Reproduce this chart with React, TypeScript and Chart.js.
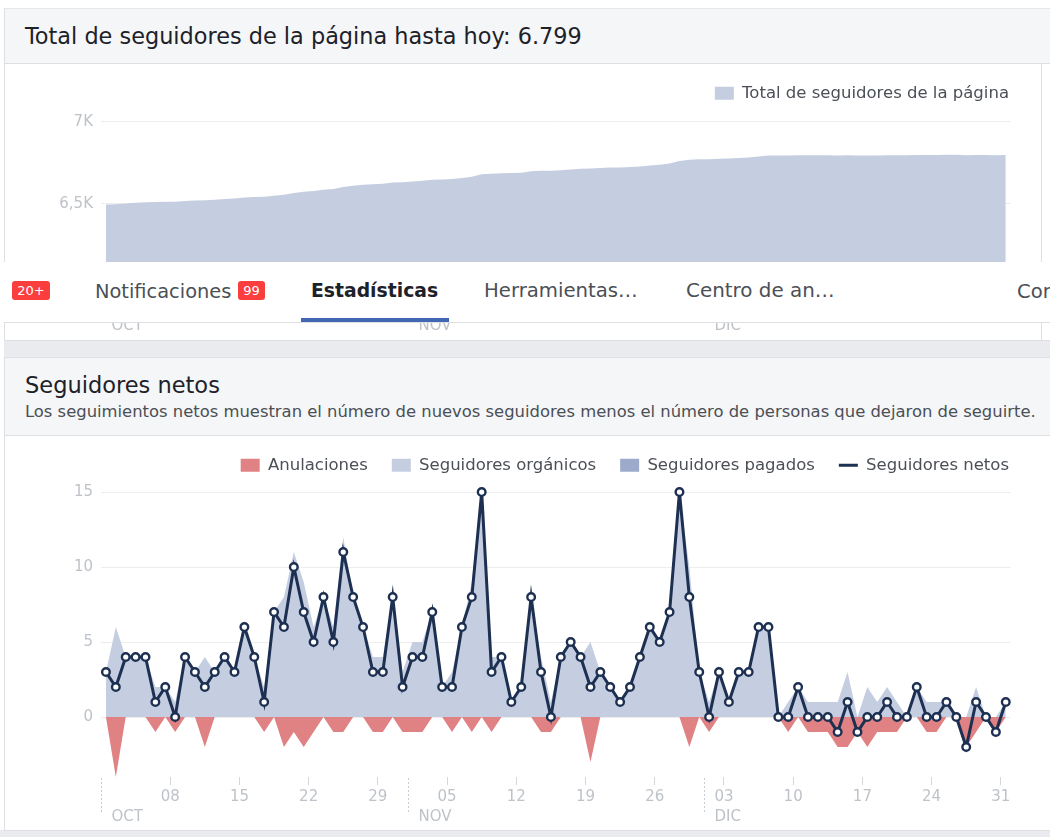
import React, { useEffect, useRef } from 'react';
import { Chart, registerables } from 'chart.js';

Chart.register(...registerables);

const FONT = '"DejaVu Sans", Verdana, sans-serif';

// Daily values, 1 Oct – 31 Dec (92 days)
const totalFollowers = [
  6497, 6499, 6503, 6507, 6511, 6512, 6514, 6514, 6518, 6521,
  6523, 6526, 6530, 6533, 6539, 6543, 6544, 6551, 6557, 6567,
  6574, 6579, 6587, 6592, 6603, 6611, 6617, 6620, 6623, 6631,
  6633, 6637, 6641, 6648, 6650, 6652, 6658, 6666, 6681, 6684,
  6688, 6689, 6691, 6699, 6702, 6702, 6706, 6711, 6715, 6717,
  6720, 6722, 6723, 6725, 6729, 6735, 6740, 6747, 6762, 6770,
  6773, 6773, 6776, 6777, 6780, 6783, 6789, 6795, 6795, 6795,
  6797, 6797, 6797, 6797, 6796, 6797, 6796, 6796, 6796, 6797,
  6797, 6797, 6799, 6799, 6799, 6800, 6800, 6798, 6799, 6799,
  6798, 6799,
];

const cancellations = [
  0, -4, 0, 0, 0, -1, 0, -1, 0, 0,
  -2, 0, 0, 0, 0, 0, -1, 0, -2, -1,
  -2, -1, 0, -1, -1, 0, 0, -1, -1, 0,
  -1, -1, -1, 0, 0, -1, 0, -1, 0, -1,
  0, 0, 0, 0, -1, -1, 0, 0, 0, -3,
  0, 0, 0, 0, 0, 0, 0, 0, 0, -2,
  0, -1, 0, 0, 0, 0, 0, 0, 0, -1,
  0, -1, -1, -1, -2, -2, -1, -2, -1, -1,
  -1, 0, 0, -1, -1, 0, 0, -2, -1, 0,
  -1, 0,
];

const organicFollowers = [
  3, 6, 4, 4, 4, 2, 2, 1, 4, 3,
  4, 3, 4, 3, 6, 4, 2, 7, 8, 11,
  9, 6, 8, 6, 12, 8, 6, 4, 4, 8,
  3, 5, 5, 7, 2, 3, 6, 9, 15, 4,
  4, 1, 2, 8, 4, 1, 4, 5, 4, 5,
  3, 2, 1, 2, 4, 6, 5, 7, 15, 10,
  3, 1, 3, 1, 3, 3, 6, 6, 0, 1,
  2, 1, 1, 1, 1, 3, 0, 2, 1, 2,
  1, 0, 2, 1, 1, 1, 0, 0, 2, 0,
  0, 1,
];

const paidFollowers = [
  0, 0, 0, 0, 0, 0, 0, 0, 0, 0,
  0, 0, 0, 0, 0, 0, 0, 0, 0, 0,
  0, 0, 0, 0, 0, 0, 0, 0, 0, 0,
  0, 0, 0, 0, 0, 0, 0, 0, 0, 0,
  0, 0, 0, 0, 0, 0, 0, 0, 0, 0,
  0, 0, 0, 0, 0, 0, 0, 0, 0, 0,
  0, 0, 0, 0, 0, 0, 0, 0, 0, 0,
  0, 0, 0, 0, 0, 0, 0, 0, 0, 0,
  0, 0, 0, 0, 0, 0, 0, 0, 0, 0,
  0, 0,
];

const netFollowers = [
  3, 2, 4, 4, 4, 1, 2, 0, 4, 3,
  2, 3, 4, 3, 6, 4, 1, 7, 6, 10,
  7, 5, 8, 5, 11, 8, 6, 3, 3, 8,
  2, 4, 4, 7, 2, 2, 6, 8, 15, 3,
  4, 1, 2, 8, 3, 0, 4, 5, 4, 2,
  3, 2, 1, 2, 4, 6, 5, 7, 15, 8,
  3, 0, 3, 1, 3, 3, 6, 6, 0, 0,
  2, 0, 0, 0, -1, 1, -1, 0, 0, 1,
  0, 0, 2, 0, 0, 1, 0, -2, 1, 0,
  -1, 1,
];

const weekTickDays = [7, 14, 21, 28, 35, 42, 49, 56, 63, 70, 77, 84, 91];
const weekTickLabels = ['08', '15', '22', '29', '05', '12', '19', '26', '03', '10', '17', '24', '31'];
const monthStartDays = [0, 31, 61];
const monthLabels = ['OCT', 'NOV', 'DIC'];

const totalTickValues = [6000, 6500, 7000];
const totalTickLabels = ['6K', '6,5K', '7K'];
const netTickValues = [0, 5, 10, 15];
const netTickLabels = ['0', '5', '10', '15'];

const totalSeriesName = 'Total de seguidores de la página';
const netSeriesNames = ['Anulaciones', 'Seguidores orgánicos', 'Seguidores pagados', 'Seguidores netos'];

const RED = '#e08183';
const ORGANIC = '#c5cee1';
const PAID = '#9eaacb';
const NAVY = '#1d3052';
const AXIS_TEXT = '#bec3c9';
const LEGEND_TEXT = '#4b4f56';
const GRID = 'rgba(0,0,0,0.07)';

const CANVAS_W = 1033;

const toPoints = (arr: number[]) => arr.map((v, i) => ({ x: i + 0.5, y: v }));

const monthPlugin = {
  id: 'monthMarks',
  afterDraw(chart: any) {
    const { ctx, chartArea, scales } = chart;
    const x = scales.x;
    ctx.save();
    monthStartDays.forEach((d, i) => {
      const px = Math.round(x.getPixelForValue(d)) + 0.5;
      ctx.strokeStyle = '#c9ccd2';
      ctx.lineWidth = 1;
      ctx.setLineDash([2, 2]);
      ctx.beginPath();
      ctx.moveTo(px, chartArea.bottom + 1);
      ctx.lineTo(px, chartArea.bottom + 35);
      ctx.stroke();
      ctx.setLineDash([]);
      ctx.fillStyle = AXIS_TEXT;
      ctx.font = `15px ${FONT}`;
      ctx.textAlign = 'left';
      ctx.textBaseline = 'middle';
      ctx.fillText(monthLabels[i], px + 10, chartArea.bottom + 40);
    });
    ctx.restore();
  },
};

const xScale = (axisHeight: number) => ({
  type: 'linear',
  min: 0,
  max: netFollowers.length,
  afterBuildTicks: (s: any) => {
    s.ticks = weekTickDays.map((v) => ({ value: v }));
  },
  afterFit: (s: any) => {
    s.height = axisHeight;
    s.paddingRight = 22.3;
    s.paddingLeft = 0;
  },
  grid: { display: true, drawOnChartArea: false, drawTicks: true, tickLength: 8, color: '#d4d7dc', lineWidth: 1 },
  border: { display: false },
  ticks: {
    autoSkip: false,
    maxRotation: 0,
    padding: 3,
    color: AXIS_TEXT,
    font: { family: FONT, size: 15 },
    callback: (v: number) => {
      const i = weekTickDays.indexOf(v);
      return i >= 0 ? weekTickLabels[i] : '';
    },
  },
});

const yScale = (min: number, max: number, values: number[], labels: string[]) => ({
  type: 'linear',
  min,
  max,
  z: 1,
  afterBuildTicks: (s: any) => {
    s.ticks = values.map((v) => ({ value: v }));
  },
  afterFit: (s: any) => {
    s.width = 101;
  },
  grid: { color: GRID, drawTicks: false, lineWidth: 1 },
  border: { display: false },
  ticks: {
    padding: 8,
    color: AXIS_TEXT,
    font: { family: FONT, size: 15 },
    callback: (v: number) => {
      const i = values.indexOf(v);
      return i >= 0 ? labels[i] : '';
    },
  },
});

const legendOpts = (items: { text: string; fill: string; line?: boolean }[]) => ({
  display: true,
  position: 'top',
  align: 'end',
  labels: {
    usePointStyle: true,
    pointStyleWidth: 19,
    boxHeight: 13,
    padding: 24,
    color: LEGEND_TEXT,
    font: { family: FONT, size: 16.5 },
    generateLabels: () =>
      items.map((it, i) => ({
        text: it.text,
        fillStyle: it.line ? 'transparent' : it.fill,
        strokeStyle: it.line ? it.fill : 'transparent',
        lineWidth: it.line ? 3 : 0,
        pointStyle: it.line ? 'line' : 'rect',
        hidden: false,
        datasetIndex: i,
        fontColor: LEGEND_TEXT,
      })),
  },
});

function Text(props: { x: number; cy: number; size: number; children: any; color?: string; bold?: boolean }) {
  const lh = Math.round(props.size * 1.4);
  return (
    <div
      style={{
        position: 'absolute',
        left: props.x,
        top: props.cy - lh / 2,
        height: lh,
        lineHeight: `${lh}px`,
        fontSize: props.size,
        fontWeight: props.bold ? 'bold' : 'normal',
        color: props.color || '#1d2129',
        whiteSpace: 'nowrap',
      }}
    >
      {props.children}
    </div>
  );
}

function Badge(props: { x: number; w: number; text: string }) {
  return (
    <div
      style={{
        position: 'absolute',
        left: props.x,
        top: 281,
        width: props.w,
        height: 19,
        background: '#fa3e3e',
        borderRadius: 3,
        color: '#fff',
        fontSize: 13,
        lineHeight: '19px',
        textAlign: 'center',
      }}
    >
      {props.text}
    </div>
  );
}

export default function App() {
  const topRef = useRef<HTMLCanvasElement>(null);
  const netRef = useRef<HTMLCanvasElement>(null);

  useEffect(() => {
    const c1 = new Chart(topRef.current as HTMLCanvasElement, {
      type: 'line',
      data: {
        datasets: [
          {
            label: totalSeriesName,
            data: toPoints(totalFollowers),
            backgroundColor: ORGANIC,
            borderColor: 'transparent',
            borderWidth: 0,
            pointRadius: 0,
            fill: 'start',
            tension: 0,
          },
        ],
      },
      options: {
        responsive: false,
        animation: false,
        devicePixelRatio: 1,
        events: [],
        layout: { padding: { top: 0, left: 0, right: 0, bottom: 0 } },
        plugins: {
          legend: legendOpts([{ text: totalSeriesName, fill: ORGANIC }]) as any,
          tooltip: { enabled: false },
        },
        scales: {
          x: xScale(54) as any,
          y: yScale(6000, 7064, totalTickValues, totalTickLabels) as any,
        },
      },
      plugins: [monthPlugin],
    });

    const c2 = new Chart(netRef.current as HTMLCanvasElement, {
      type: 'line',
      data: {
        datasets: [
          {
            label: netSeriesNames[0],
            data: toPoints(cancellations),
            backgroundColor: RED,
            borderColor: 'transparent',
            borderWidth: 0,
            pointRadius: 0,
            fill: 'origin',
            tension: 0,
            order: 3,
          },
          {
            label: netSeriesNames[1],
            data: toPoints(organicFollowers),
            backgroundColor: ORGANIC,
            borderColor: 'transparent',
            borderWidth: 0,
            pointRadius: 0,
            fill: 'origin',
            tension: 0,
            order: 2,
          },
          {
            label: netSeriesNames[2],
            data: toPoints(paidFollowers),
            backgroundColor: PAID,
            borderColor: 'transparent',
            borderWidth: 0,
            pointRadius: 0,
            fill: 'origin',
            tension: 0,
            order: 1,
          },
          {
            label: netSeriesNames[3],
            data: toPoints(netFollowers),
            borderColor: NAVY,
            backgroundColor: NAVY,
            borderWidth: 3,
            pointRadius: 3.8,
            pointBorderWidth: 2.4,
            pointBackgroundColor: '#ffffff',
            pointBorderColor: NAVY,
            fill: false,
            tension: 0,
            order: 0,
            clip: false,
          } as any,
        ],
      },
      options: {
        responsive: false,
        animation: false,
        devicePixelRatio: 1,
        events: [],
        layout: { padding: { top: 0, left: 0, right: 0, bottom: 0 } },
        plugins: {
          legend: legendOpts([
            { text: netSeriesNames[0], fill: RED },
            { text: netSeriesNames[1], fill: ORGANIC },
            { text: netSeriesNames[2], fill: PAID },
            { text: netSeriesNames[3], fill: NAVY, line: true },
          ]) as any,
          tooltip: { enabled: false },
        },
        scales: {
          x: xScale(53) as any,
          y: yScale(-4, 15.57, netTickValues, netTickLabels) as any,
        },
      },
      plugins: [monthPlugin],
    });

    return () => {
      c1.destroy();
      c2.destroy();
    };
  }, []);

  const line = (l: number, t: number, w: number, h: number, c = '#dddfe2') => (
    <div style={{ position: 'absolute', left: l, top: t, width: w, height: h, background: c }} />
  );

  return (
    <div
      style={{
        position: 'absolute',
        left: 0,
        top: 0,
        width: 1050,
        height: 837,
        overflow: 'hidden',
        background: '#ffffff',
        fontFamily: FONT,
      }}
    >
      {/* Panel 1 header */}
      <div style={{ position: 'absolute', left: 4, top: 8, width: 1046, height: 56, background: '#f5f6f7' }} />
      {line(4, 8, 1046, 1, '#e5e6e9')}
      {line(4, 63, 1046, 1)}
      <Text x={25} cy={36} size={22.4}>
        Total de seguidores de la página hasta hoy: 6.799
      </Text>
      {line(4, 8, 1, 332)}
      {line(1041, 64, 1, 276)}
      <canvas ref={topRef} width={CANVAS_W} height={279} style={{ position: 'absolute', left: 0, top: 61, display: 'block' }} />

      {/* Tab bar overlay */}
      <div style={{ position: 'absolute', left: 0, top: 262, width: 1050, height: 60, background: '#ffffff' }} />
      {line(4, 322, 1046, 1)}
      <Badge x={12} w={38} text="20+" />
      <Text x={95} cy={291} size={19.4} color={LEGEND_TEXT}>
        Notificaciones
      </Text>
      <Badge x={238} w={27} text="99" />
      <Text x={311} cy={291} size={18.8} bold>
        Estadísticas
      </Text>
      {line(301, 318, 148, 4, '#4267b2')}
      <Text x={484} cy={291} size={19.7} color={LEGEND_TEXT}>
        Herramientas…
      </Text>
      <Text x={686} cy={291} size={19.9} color={LEGEND_TEXT}>
        Centro de an…
      </Text>
      <Text x={1017} cy={291} size={19.6} color={LEGEND_TEXT}>
        Configuración
      </Text>

      {/* Separator band */}
      <div style={{ position: 'absolute', left: 4, top: 340, width: 1046, height: 17, background: '#e9ebee' }} />
      {line(4, 340, 1046, 1)}

      {/* Panel 2 header */}
      <div style={{ position: 'absolute', left: 4, top: 357, width: 1046, height: 78, background: '#f5f6f7' }} />
      {line(4, 357, 1046, 1)}
      {line(4, 435, 1046, 1)}
      {line(4, 357, 1, 473)}
      <Text x={25} cy={385} size={22.5}>
        Seguidores netos
      </Text>
      <Text x={25} cy={411} size={16.4} color={LEGEND_TEXT}>
        Los seguimientos netos muestran el número de nuevos seguidores menos el número de personas que dejaron de seguirte.
      </Text>

      <canvas ref={netRef} width={CANVAS_W} height={397} style={{ position: 'absolute', left: 0, top: 433, display: 'block' }} />

      {/* Bottom band */}
      <div style={{ position: 'absolute', left: 0, top: 830, width: 1050, height: 7, background: '#e9ebee' }} />
      {line(4, 830, 1046, 1)}
    </div>
  );
}
